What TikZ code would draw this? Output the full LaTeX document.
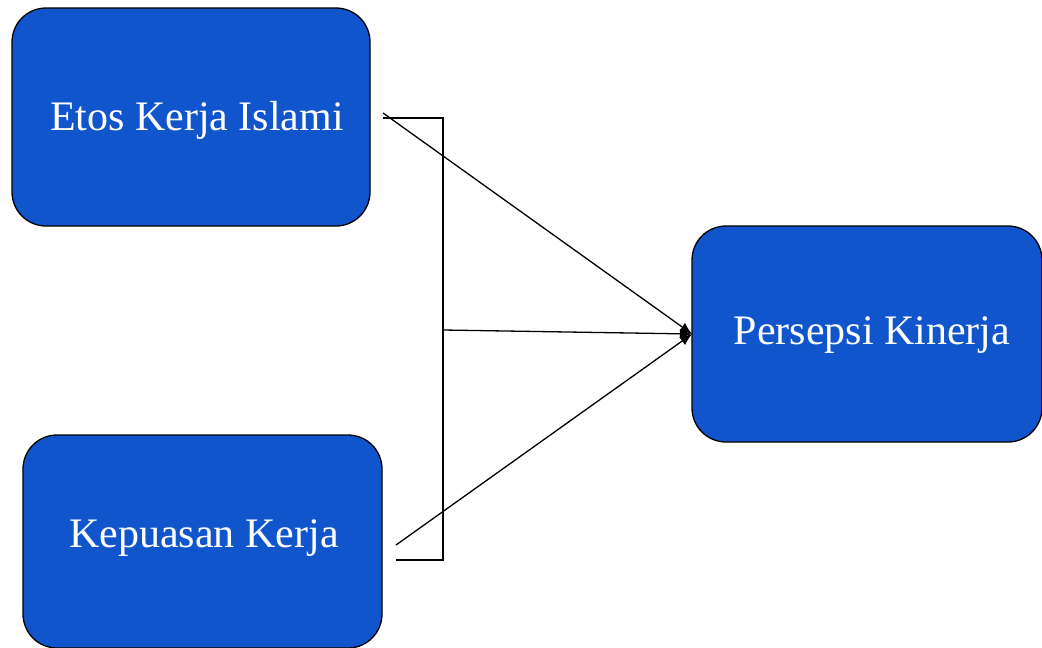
\documentclass[tikz,border=0pt]{standalone}
\usepackage{fontspec}
\setmainfont{Liberation Serif}
\usetikzlibrary{arrows.meta}
\definecolor{boxblue}{HTML}{1155CC}
\begin{document}
\begin{tikzpicture}[x=1pt,y=-1pt,
  varbox/.style={draw=black, line width=1.3pt, fill=boxblue, rounded corners=34pt},
  boxtext/.style={text=white, font=\fontsize{42}{48}\selectfont},
  conn/.style={draw=black, line width=1.3pt},
  arr/.style={conn, -{Latex[length=12pt,width=10pt]}}]
\useasboundingbox (0,0) rectangle (1042,648);
\fill[white] (0,0) rectangle (1042,648);
% boxes
\path[varbox] (12,8) rectangle (370,226);
\node[boxtext] (etos) at (197,120) {Etos Kerja Islami};
\path[varbox] (23,435) rectangle (382,648);
\node[boxtext] (kep) at (204,538) {Kepuasan Kerja};
\path[varbox] (692,226) rectangle (1042,442);
\node[boxtext] (pk) at (872,335) {Persepsi Kinerja};
% connector coordinates
\coordinate (a1) at (383,113);
\coordinate (b1) at (383,118);
\coordinate (bt) at (443,118);
\coordinate (bb) at (443,560);
\coordinate (b2) at (396,560);
\coordinate (bm) at (443,330);
\coordinate (a2) at (396,545);
\coordinate (tip) at (692,334);
% bracket
\draw[conn] (b1) -- (bt) -- (bb) -- (b2);
% arrows
\draw[arr] (a1) -- (tip);
\draw[arr] (bm) -- (tip);
\draw[arr] (a2) -- (tip);
\end{tikzpicture}
\end{document}
